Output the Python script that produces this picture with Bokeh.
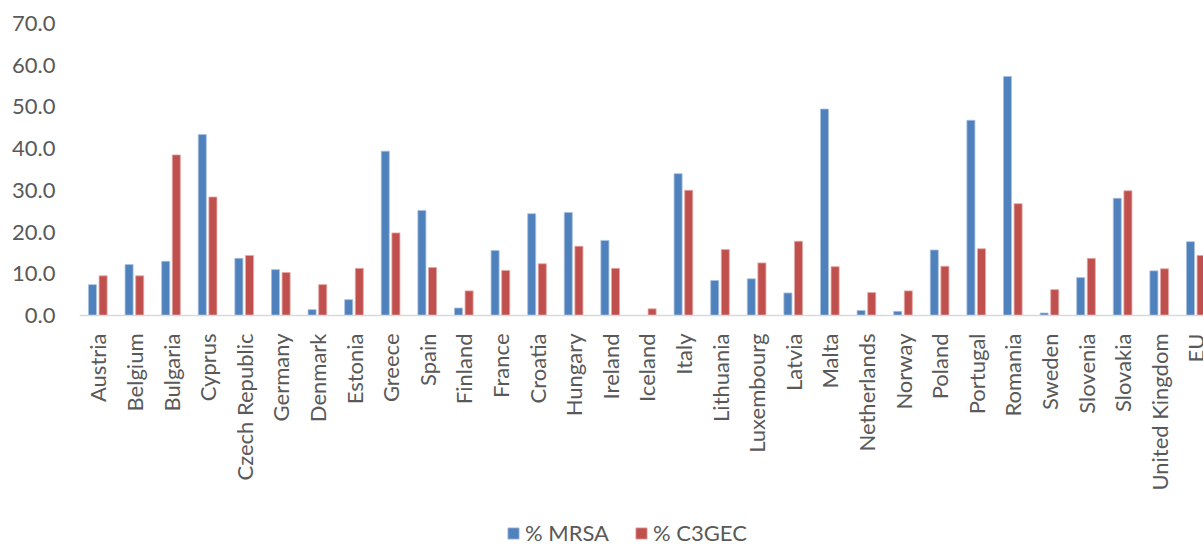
import math
from bokeh.plotting import figure
from bokeh.models import (ColumnDataSource, Range1d, FixedTicker, NumeralTickFormatter,
                          Legend, LegendItem, Span)
from bokeh.core.properties import value
from bokeh.transform import dodge
from bokeh.embed import file_html
from bokeh.resources import INLINE

countries = ["Austria", "Belgium", "Bulgaria", "Cyprus", "Czech Republic", "Germany",
             "Denmark", "Estonia", "Greece", "Spain", "Finland", "France", "Croatia",
             "Hungary", "Ireland", "Iceland", "Italy", "Lithuania", "Luxembourg", "Latvia",
             "Malta", "Netherlands", "Norway", "Poland", "Portugal", "Romania", "Sweden",
             "Slovenia", "Slovakia", "United Kingdom", "EU"]
mrsa = [7.4, 12.2, 13.0, 43.4, 13.7, 11.0, 1.4, 3.8, 39.4, 25.2, 1.8, 15.6, 24.4,
        24.7, 18.0, 0.0, 34.0, 8.4, 8.8, 5.4, 49.5, 1.2, 1.0, 15.7, 46.8, 57.3, 0.6,
        9.1, 28.1, 10.7, 17.7]
c3gec = [9.5, 9.5, 38.5, 28.4, 14.4, 10.3, 7.4, 11.3, 19.8, 11.5, 5.9, 10.8, 12.4,
         16.6, 11.3, 1.6, 30.0, 15.8, 12.6, 17.8, 11.7, 5.5, 5.9, 11.8, 16.0, 26.8, 6.2,
         13.7, 29.9, 11.2, 14.4]
y_ticks = [0, 10, 20, 30, 40, 50, 60, 70]
series_names = ["% MRSA", "% C3GEC"]

FONT = "Lato"
TXT = "#595959"

x_idx = list(range(len(countries)))
src = ColumnDataSource(dict(x=x_idx, mrsa=mrsa, c3gec=c3gec, name=countries,
                            base=[0] * len(countries)))

# frame spans page y 23..544; value 0 sits at y=315 (292 px for 70 units)
p = figure(width=1203, height=544, output_backend="svg", toolbar_location=None,
           x_range=Range1d(-0.5, 30.21), y_range=Range1d(-54.9, 70),
           x_axis_location=None,
           min_border_left=79, min_border_right=0, min_border_top=23,
           min_border_bottom=0)

r1 = p.vbar(x=dodge("x", -0.145, range=p.x_range), top="mrsa", bottom=0, width=0.22,
            source=src, fill_color="#4F81BD", line_color="#A9C1E0", line_width=0.8)
r2 = p.vbar(x=dodge("x", 0.145, range=p.x_range), top="c3gec", bottom=0, width=0.22,
            source=src, fill_color="#C0504D", line_color="#E3A8A6", line_width=0.8)

# category axis line and labels
p.add_layout(Span(location=0, dimension="width", line_color="#D9D9D9", line_width=1.5))
p.text(x="x", y="base", text="name", source=src, angle=math.pi / 2,
       text_align="right", text_baseline="middle", y_offset=18,
       text_font=value(FONT), text_font_size="22px", text_color=TXT)

p.outline_line_color = None
p.xgrid.grid_line_color = None
p.ygrid.grid_line_color = None
p.background_fill_color = "white"
p.border_fill_color = "white"

ya = p.yaxis[0]
ya.ticker = FixedTicker(ticks=y_ticks)
ya.formatter = NumeralTickFormatter(format="0.0")
ya.axis_line_color = None
ya.major_tick_line_color = None
ya.minor_tick_line_color = None
ya.major_tick_out = 0
ya.major_tick_in = 0
ya.major_label_standoff = 24
ya.major_label_text_font = FONT
ya.major_label_text_font_size = "22px"
ya.major_label_text_color = TXT

legend = Legend(items=[LegendItem(label=series_names[0], renderers=[r1]),
                       LegendItem(label=series_names[1], renderers=[r2])],
                location=(427, -2), orientation="horizontal",
                label_text_font=FONT, label_text_font_size="22px",
                label_text_color=TXT, glyph_width=14, glyph_height=14,
                label_height=14, label_standoff=5, spacing=25, padding=0, margin=0,
                border_line_color=None, background_fill_alpha=0)
p.add_layout(legend)

open("out.html", "w").write(file_html(p, INLINE))
